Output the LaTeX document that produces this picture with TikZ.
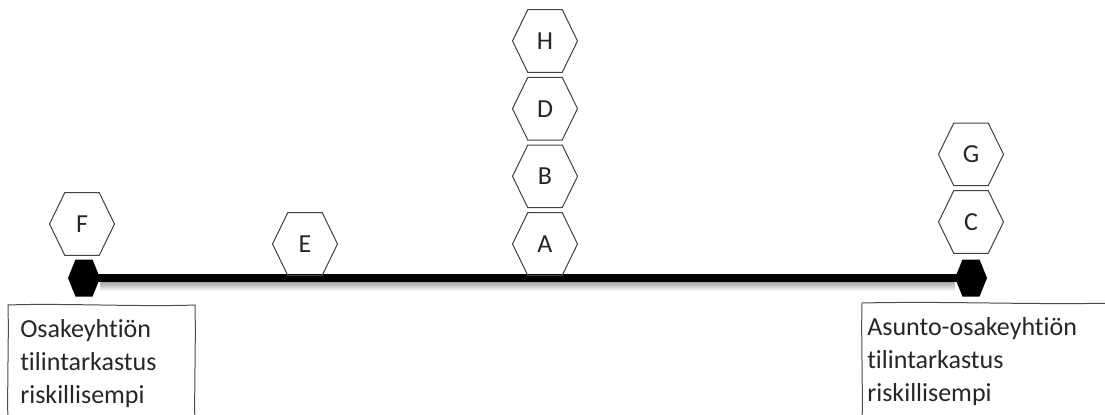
\documentclass[tikz,border=0pt]{standalone}
\usepackage{fontspec}
\setmainfont{Carlito}[Ligatures=NoCommon]
\usetikzlibrary{positioning, shapes.symbols, calc}

\begin{document}
\begin{tikzpicture}[
  x=0.75pt, y=-0.75pt,
  node distance=3pt and 10pt,
  hexbox/.style={shape=signal, signal to=east and west, signal pointer angle=128,
    draw=black!75, line width=0.75pt, minimum width=48.75pt, minimum height=47pt,
    inner sep=0pt, font=\fontsize{19.5pt}{24pt}\selectfont, text=black!85},
  endmark/.style={shape=signal, signal to=east and west, signal pointer angle=136,
    fill=black, minimum width=24pt, minimum height=27.75pt, inner sep=0pt},
  bar/.style={line width=6pt, black},
  sketch/.style={draw=black!70, line width=0.75pt},
  note/.style={anchor=base west, align=left, inner sep=0pt,
    font=\fontsize{19.5pt}{24.75pt}\selectfont, text=black!85}
]
  \useasboundingbox (0,0) rectangle (1105,414);
  \clip (0,0) rectangle (1105,414);

  % scale ends
  \node[endmark] (endL) at (84,278) {};
  \node[endmark] (endR) at (971,278) {};
  \shade[top color=black!35, bottom color=white]
    ($(endL.east)+(0,4)$) rectangle ($(endR.west)+(0,13)$);
  \draw[bar] (endL.center) -- (endR.center);

  % companies on the scale
  \node[hexbox] (hexF) at (82,224) {F};
  \node[hexbox] (hexE) at (305,244) {E};
  \node[hexbox] (hexA) at (545,244) {A};
  \node[hexbox, above=of hexA] (hexB) {B};
  \node[hexbox, above=of hexB] (hexD) {D};
  \node[hexbox, above=of hexD] (hexH) {H};
  \node[hexbox] (hexC) at (971,222) {C};
  \node[hexbox, above=of hexC] (hexG) {G};

  % end labels
  \draw[sketch] (8,430) .. controls (7,380) and (9,340) .. (8,305)
    .. controls (60,303) and (140,307) .. (195,305)
    .. controls (196,345) and (194,390) .. (195,430);
  \node[note] (leftnote) at (20,403) {Osakeyhtiön\\tilintarkastus\\riskillisempi};
  \draw[sketch] (862,430) .. controls (863,380) and (861,340) .. (862,303)
    .. controls (950,301) and (1030,305) .. (1120,303);
  \node[note] (rightnote) at (867,401) {Asunto-osakeyhtiön\\tilintarkastus\\riskillisempi};
\end{tikzpicture}
\end{document}
